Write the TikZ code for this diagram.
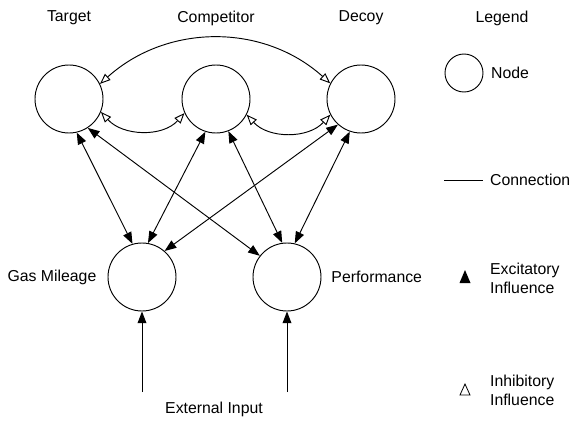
\documentclass[tikz,border=0pt]{standalone}
\usepackage{fontspec}
\setmainfont{Liberation Sans}
\usetikzlibrary{arrows.meta,positioning}

\begin{document}
\begin{tikzpicture}[x=0.03cm,y=-0.03cm,
  font=\fontsize{13.5}{16}\selectfont,
  unit/.style={draw,circle,line width=0.8pt,minimum size=2.04cm,inner sep=0pt},
  excite/.style={line width=0.8pt,{Triangle[length=10pt,width=7.5pt]}-{Triangle[length=10pt,width=7.5pt]}},
  inhibit/.style={line width=0.8pt,{Triangle[open,length=9pt,width=7pt]}-{Triangle[open,length=9pt,width=7pt]}}
  ]
  \useasboundingbox (0,0) rectangle (575,421);

  % option layer
  \node [unit] at (69,99) (target) {};
  \node [unit] at (216,99) (competitor) {};
  \node [unit] at (361,99) (decoy) {};

  \node at (69,18) (target_lbl) {Target};
  \node at (216,18) (competitor_lbl) {Competitor};
  \node at (361,18) (decoy_lbl) {Decoy};

  % attribute layer
  \node [unit] at (142,277) (gas) {};
  \node [unit] at (287,277) (perf) {};

  \node [left=6pt of gas] (gas_lbl) {Gas Mileage};
  \node [right=5pt of perf] (perf_lbl) {Performance};

  %inhibition between options
  \draw [inhibit] (target.26) to[out=42,in=138] (decoy.153);
  \draw [inhibit] (target.-22) to[out=-48,in=-132] (competitor.204);
  \draw [inhibit] (competitor.-27) to[out=-48,in=-132] (decoy.207);

  %excitation options <-> attributes
  \draw [excite] (target.-77) -- (gas.106);
  \draw [excite] (target.-57) -- (perf.142);
  \draw [excite] (competitor.-108) -- (gas.80);
  \draw [excite] (competitor.-69) -- (perf.98);
  \draw [excite] (decoy.-132) -- (gas.49);
  \draw [excite] (decoy.-109) -- (perf.77);

  % external input
  \coordinate (gas_in) at (142,392);
  \coordinate (perf_in) at (287,392);
  \draw [line width=0.8pt,-{Triangle[length=10pt,width=7.5pt]}] (gas_in) -- (gas);
  \draw [line width=0.8pt,-{Triangle[length=10pt,width=7.5pt]}] (perf_in) -- (perf);
  \node at (214,409) (ext_lbl) {External Input};

  % legend
  \node at (502,18) (legend) {Legend};
  \node [draw,circle,line width=0.8pt,minimum size=1.14cm,inner sep=0pt] at (464,73) (leg_node) {};
  \node [right=3pt of leg_node] (leg_node_lbl) {Node};

  \coordinate (leg_line_a) at (444,180);
  \coordinate (leg_line_b) at (483,180);
  \draw [line width=0.8pt] (leg_line_a) -- (leg_line_b);
  \node [anchor=west] at (486,180) (leg_line_lbl) {Connection};

  \coordinate (leg_exc) at (465,277);
  \fill (leg_exc) ++(0,-7) -- ++(5.5,13) -- ++(-11,0) -- cycle;
  \node [anchor=west,align=left] at (486,278) (leg_exc_lbl) {Excitatory\\Influence};

  \coordinate (leg_inh) at (465,390);
  \draw [line width=0.7pt] (leg_inh) ++(0,-6) -- ++(5,11) -- ++(-10,0) -- cycle;
  \node [anchor=west,align=left] at (486,390) (leg_inh_lbl) {Inhibitory\\Influence};

\end{tikzpicture}
\end{document}
